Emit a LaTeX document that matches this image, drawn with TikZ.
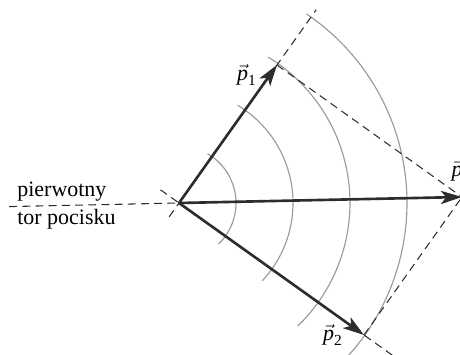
\documentclass[tikz,border=0pt]{standalone}
\usepackage{amsmath}
\usepackage{fontspec}
\setmainfont{Liberation Serif}
\usetikzlibrary{arrows.meta,calc}
\definecolor{ciemnySzary}{HTML}{2D2D2D}
\definecolor{jasnySzary}{HTML}{9A9A9A}

\begin{document}
\begin{tikzpicture}[font=\fontsize{12.5}{14}\selectfont,
  wektor/.style={ciemnySzary,line width=1.5pt,-{Stealth[length=12pt,width=7.5pt,inset=3pt]}},
  kreski/.style={ciemnySzary,line width=0.6pt,dash pattern=on 4.5pt off 3pt},
  fala/.style={jasnySzary,line width=0.65pt}]
\useasboundingbox (-3.58,-3.04) rectangle (5.62,4.06);
\coordinate (O) at (0,0);
\coordinate (p1) at (1.96,2.76);
\coordinate (p2) at (3.70,-2.64);
\coordinate (p) at ($(p1)+(p2)$);
\coordinate (p1tyl) at ($(O)!-0.1!(p1)$);
\coordinate (p1dal) at ($(O)!1.4!(p1)$);
\coordinate (p2tyl) at ($(O)!-0.1!(p2)$);
\coordinate (p2dal) at ($(O)!1.25!(p2)$);
\coordinate (tor) at ($(O)!-0.6!(p)$);
% fale
\foreach \r/\a/\b in {1.14/-46/60, 2.28/-43/59, 3.42/-46/58.6, 4.56/-45/56}
  \draw[fala] ($(O)+(\a:\r)$) arc[start angle=\a, end angle=\b, radius=\r];
\draw[kreski] (tor)--(O);
\draw[kreski] (p1tyl)--(p1dal);
\draw[kreski] (p2tyl)--(p2dal);
\draw[kreski] (p1)--(p);
\draw[kreski] (p2)--(p);
\draw[wektor] (O)--(p1);
\draw[wektor] (O)--(p2);
\draw[wektor] (O)--(p);
\node (lp1) at (1.36,2.56) {$\vec{\textit{p}}_{\text{1}}$};
\node (lp2) at (3.08,-2.64) {$\vec{\textit{p}}_{\text{2}}$};
\node (lp) at (5.56,0.64) {$\vec{\textit{p}}$};
\node[anchor=base west,inner sep=0] (napis1) at (-3.24,0.12) {pierwotny};
\node[anchor=base west,inner sep=0] (napis2) at (-3.24,-0.44) {tor pocisku};
\end{tikzpicture}
\end{document}
